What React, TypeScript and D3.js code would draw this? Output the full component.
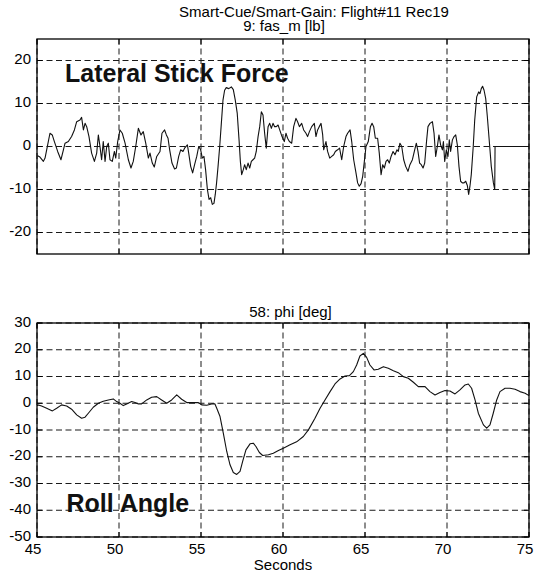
import React from "react";
import * as d3 from "d3";

const forceTime = [45.04,45.18,45.39,45.49,45.65,45.79,45.93,46.06,46.26,46.46,46.61,46.71,46.91,47.11,47.28,47.42,47.62,47.72,47.83,47.93,48.03,48.17,48.33,48.5,48.64,48.74,48.84,48.94,49.04,49.15,49.25,49.35,49.45,49.59,49.72,49.8,49.92,50.06,50.2,50.37,50.57,50.73,50.87,51.02,51.18,51.34,51.48,51.63,51.79,51.89,52.03,52.15,52.3,52.5,
52.62,52.78,52.89,52.99,53.09,53.23,53.39,53.5,53.64,53.76,53.9,54.0,54.17,54.25,54.37,54.49,54.61,54.74,54.86,54.98,55.08,55.18,55.28,55.39,55.49,55.59,55.69,55.79,55.87,55.95,56.04,56.14,56.24,56.34,56.44,56.54,56.69,56.85,56.97,57.09,57.21,57.32,57.4,57.48,57.58,57.66,57.76,57.87,57.97,58.07,58.17,58.27,58.37,58.48,58.58,58.68,58.78,58.88,58.98,59.09,59.19,59.29,59.39,59.49,59.59,59.7,59.8,
59.94,60.08,60.18,60.28,60.39,60.53,60.65,60.79,60.89,61.0,61.14,61.26,61.4,61.5,61.61,61.75,61.91,62.01,62.11,62.21,62.32,62.42,62.48,62.62,62.72,62.85,62.97,63.09,63.19,63.33,63.45,63.58,63.7,63.84,63.94,64.09,64.19,64.31,64.45,64.55,64.65,64.76,64.86,64.96,65.06,65.2,65.33,65.43,65.53,65.63,65.77,65.87,65.98,66.08,66.18,66.28,66.38,66.48,66.59,66.71,66.83,66.95,67.03,67.13,67.24,67.36,
67.48,67.62,67.74,67.89,68.03,68.13,68.23,68.33,68.43,68.54,68.64,68.76,68.84,68.96,69.11,69.21,69.31,69.41,69.51,69.61,69.72,69.78,69.86,69.96,70.06,70.14,70.22,70.33,70.43,70.53,70.63,70.73,70.83,70.93,71.04,71.14,71.24,71.32,71.4,71.48,71.6,71.69,71.81,71.93,72.01,72.09,72.17,72.26,72.36,72.46,72.58,72.7,72.83,72.91,72.93,75.0];

const forceValue = [-2.15,-2.46,-3.46,-2.69,0.38,3.08,2.69,1.15,-1.15,-3.08,-0.77,0.77,1.15,2.31,3.85,5.77,6.15,6.77,3.85,5.38,4.62,2.31,-1.54,-3.46,-1.54,2.69,0,-3.08,1.15,-3.46,0,0.77,-3.08,-3.46,-1.15,-2.69,1.15,3.85,3.08,0.77,-3.08,-5.0,-3.46,0,4.23,2.69,3.46,0.77,-2.69,-1.54,-3.85,-4.77,-2.31,-1.15,
3.08,3.85,2.69,1.92,-0.77,-3.85,-5.23,-5.0,-2.31,-0.77,-1.15,-0.38,0.38,-1.54,-4.62,-6.15,-4.23,-2.31,0,-0.77,-2.69,-2.31,-5.38,-10.0,-12.31,-11.92,-13.46,-13.23,-11.15,-8.46,-4.62,0,5.38,10.77,13.08,13.69,13.46,13.85,13.23,10.77,7.69,1.54,-3.46,-6.54,-5.38,-4.23,-5.38,-3.85,-5.0,-3.46,-3.08,-2.69,-1.15,2.31,4.62,8.08,7.31,3.08,-0.38,4.62,5.38,4.23,5.38,4.62,4.62,5.0,3.85,
2.31,1.15,3.08,1.92,1.15,0.77,4.62,6.54,5.77,4.62,5.38,3.85,3.08,2.31,3.46,4.62,5.38,2.31,3.85,4.62,5.38,2.69,-0.77,1.15,-1.15,-2.69,-2.31,-1.92,-1.15,-0.77,-0.38,-3.08,0,2.31,3.08,3.85,1.15,-3.08,-6.15,-8.46,-9.23,-8.62,-6.92,-3.46,0,1.15,4.62,5.38,4.62,1.92,1.92,-1.54,-6.54,-4.23,-5.0,-3.46,-3.08,-3.85,-2.31,-1.15,-1.92,-0.77,-1.15,0.77,0,-3.08,
-4.62,-5.77,-4.23,-3.08,-0.77,0.77,-1.15,-3.85,-4.23,-5.0,-3.85,1.54,4.62,5.38,5.77,3.08,-2.31,0,2.69,0.38,-0.77,1.15,-3.46,-0.77,-2.31,1.54,-1.15,1.54,2.31,2.69,0.38,-4.62,-8.08,-8.46,-8.46,-8.08,-9.08,-11.15,-9.23,-6.54,0,6.15,11.54,12.69,12.31,13.46,14.0,13.08,11.15,6.92,1.15,-4.62,-8.46,-10.0,0,0];

const rollTime = [45.0,45.08,45.28,45.59,45.94,46.2,46.5,46.81,47.11,47.42,47.72,47.93,48.13,48.43,48.74,49.04,49.35,49.65,49.86,50.06,50.26,50.47,50.77,50.98,51.18,51.38,51.69,51.99,52.3,52.6,52.91,53.21,53.52,53.82,54.13,54.53,54.84,55.04,55.35,55.65,55.85,
55.96,56.16,56.36,56.57,56.77,56.97,57.18,57.38,57.54,57.74,57.99,58.19,58.35,58.56,58.76,59.11,59.41,59.72,60.02,60.43,60.83,61.24,61.55,61.95,62.26,62.56,62.87,63.17,63.48,63.78,64.05,64.29,64.49,
64.69,64.9,65.1,65.3,65.55,65.81,66.12,66.42,66.73,67.03,67.34,67.64,67.95,68.25,68.66,68.96,69.27,69.57,69.88,70.18,70.49,70.79,71.1,71.3,71.5,71.71,71.91,72.22,72.42,72.62,72.82,73.03,73.23,73.54,73.84,74.15,74.45,74.76,75.0];

const rollValue = [-1.0,-0.62,-1.0,-1.87,-2.86,-1.87,-0.62,-1.0,-2.24,-4.35,-5.6,-5.22,-3.73,-1.49,0,0.75,1.24,1.62,0.62,0,-0.87,-0.25,0.62,0.25,-0.25,-0.25,1.24,2.24,2.49,1.24,0,1.24,3.11,1.49,0.25,0.25,0.25,-0.62,-0.75,-0.25,-0.25,
-1.87,-4.98,-11.19,-18.03,-23.0,-25.87,-26.62,-25.5,-21.77,-17.41,-15.17,-14.93,-16.17,-18.41,-19.53,-19.28,-18.66,-17.66,-16.79,-15.55,-14.43,-12.44,-9.95,-5.6,-1.87,1.24,4.35,7.21,9.08,10.2,10.32,11.82,14.3,
17.66,18.66,17.16,14.3,12.44,12.69,13.68,13.06,12.19,11.44,9.95,9.33,7.84,6.22,6.22,4.35,3.11,3.98,4.73,4.6,3.48,4.98,6.84,7.21,5.6,1.24,-3.73,-8.08,-9.33,-8.08,-3.73,1.24,4.35,5.6,5.6,5.22,4.35,3.73,2.86];

const xTicks = [45, 50, 55, 60, 65, 70, 75];
const forceTicks = [-20, -10, 0, 10, 20];
const rollTicks = [-50, -40, -30, -20, -10, 0, 10, 20, 30];

const FONT = "Liberation Sans, Arial, Helvetica, sans-serif";

function Panel({ times, values, yDomain, yTicks, top, bottom, showX }) {
  const left = 37, right = 529;
  const x = d3.scaleLinear().domain([45, 75]).range([left, right]);
  const y = d3.scaleLinear().domain(yDomain).range([bottom, top]);
  const pts = times.map((t, i) => [t, values[i]] as [number, number]);
  const line = d3.line<[number, number]>().x(d => x(d[0])).y(d => y(d[1]));
  const tl = 5;
  return (
    <g>
      {yTicks.map(v => (
        <line key={"gy" + v} x1={left} x2={right} y1={y(v)} y2={y(v)} stroke="#1a1a1a" strokeWidth={1} strokeDasharray="6,3.5" />
      ))}
      {xTicks.map(t => (
        <line key={"gx" + t} x1={x(t)} x2={x(t)} y1={top} y2={bottom} stroke="#1a1a1a" strokeWidth={1} strokeDasharray="6,3.5" />
      ))}
      {xTicks.map(t => (
        <g key={"tx" + t}>
          <line x1={x(t)} x2={x(t)} y1={top} y2={top + tl} stroke="#000" />
          <line x1={x(t)} x2={x(t)} y1={bottom} y2={bottom - tl} stroke="#000" />
        </g>
      ))}
      {yTicks.map(v => (
        <g key={"ty" + v}>
          <line x1={left} x2={left + tl} y1={y(v)} y2={y(v)} stroke="#000" />
          <line x1={right} x2={right - tl} y1={y(v)} y2={y(v)} stroke="#000" />
        </g>
      ))}
      <path d={line(pts) || ""} fill="none" stroke="#111" strokeWidth={1.1} strokeLinejoin="round" />
      <rect x={left} y={top} width={right - left} height={bottom - top} fill="none" stroke="#000" strokeWidth={1.3} />
      {yTicks.map(v => (
        <text key={"ly" + v} x={31} y={y(v) + 3.5} textAnchor="end" fontSize={15} fontFamily={FONT} fill="#000">{v}</text>
      ))}
      {showX && xTicks.map(t => (
        <text key={"lx" + t} x={x(t) - 4} y={554} textAnchor="middle" fontSize={15} fontFamily={FONT} fill="#000">{t}</text>
      ))}
    </g>
  );
}

export default function App() {
  return (
    <svg width={534} height={577} style={{ position: "absolute", left: 0, top: 0, background: "#fff" }}>
      <rect x={0} y={0} width={534} height={577} fill="#fff" />
      <text x={314} y={17} textAnchor="middle" fontSize={15} fontFamily={FONT}>Smart-Cue/Smart-Gain: Flight#11 Rec19</text>
      <text x={284} y={31} textAnchor="middle" fontSize={15} fontFamily={FONT}>9: fas_m [lb]</text>
      <Panel times={forceTime} values={forceValue} yDomain={[-25, 25]} yTicks={forceTicks} top={39} bottom={254} showX={false} />
      <text x={65} y={82} fontSize={25} fontWeight="bold" fontFamily={FONT} fill="#111">Lateral Stick Force</text>
      <text x={290.5} y={317} textAnchor="middle" fontSize={15} fontFamily={FONT}>58: phi [deg]</text>
      <Panel times={rollTime} values={rollValue} yDomain={[-50, 30]} yTicks={rollTicks} top={323} bottom={537} showX={true} />
      <text x={66.5} y={512} fontSize={25} fontWeight="bold" fontFamily={FONT} fill="#111">Roll Angle</text>
      <text x={283} y={570} textAnchor="middle" fontSize={15} fontFamily={FONT}>Seconds</text>
    </svg>
  );
}
